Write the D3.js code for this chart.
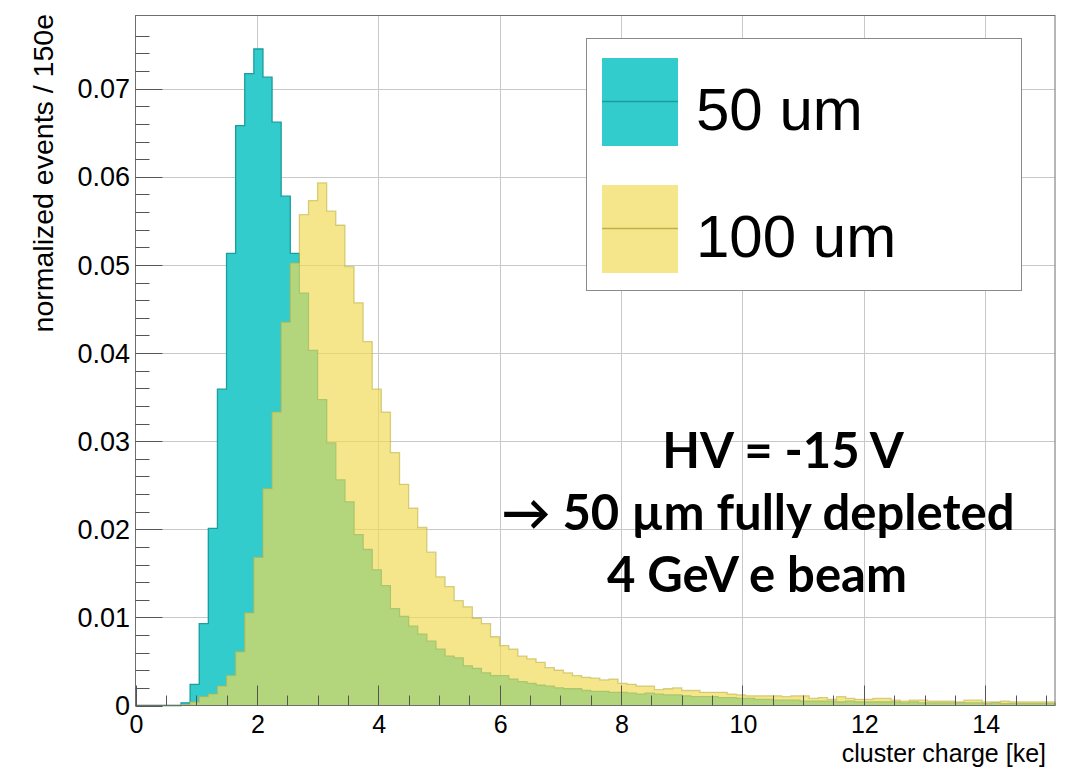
<!DOCTYPE html>
<html lang="en">
<head>
<meta charset="UTF-8">
<title>Cluster charge</title>
<script src="https://d3js.org/d3.v7.min.js"></script>
<style>
  body, html { margin: 0; padding: 0; background: #fff; overflow: hidden; }
  svg { display: block; font-family: "Liberation Sans", Arial, sans-serif; }
</style>
</head>
<body>
<div id="chart"></div>
<script>
// histogram binning: 150 e per bin, in ke
const binWidth = 0.15;

// normalized events per bin, 50 um sensor (cyan)
const thin50 = [
  0, 0, 0, 0, 0, 0.0003, 0.0024, 0.0093, 0.0201, 0.0359,
  0.0513, 0.0658, 0.0717, 0.0745, 0.0713, 0.0662, 0.0578, 0.0513, 0.0468, 0.0403,
  0.0347, 0.0298, 0.0256, 0.0231, 0.0194, 0.0177, 0.0154, 0.0136, 0.0110, 0.0101,
  0.0090, 0.0081, 0.0073, 0.0064, 0.0056, 0.0054, 0.0045, 0.0042, 0.0037, 0.0034,
  0.0034, 0.0030, 0.0027, 0.0025, 0.0023, 0.0022, 0.0020, 0.0019, 0.0019, 0.0017,
  0.0016, 0.0016, 0.0015, 0.0015, 0.0014, 0.0013, 0.0014, 0.0013, 0.0012, 0.0012,
  0.0011, 0.0010, 0.0010, 0.0010, 0.0009, 0.0009, 0.0008, 0.0008, 0.0007, 0.0007,
  0.0006, 0.0006, 0.0006, 0.0005, 0.0005, 0.0005, 0.0005, 0.0004, 0.0005, 0.0004,
  0.0004, 0.0004, 0.0004, 0.0004, 0.0003, 0.0004, 0.0003, 0.0003, 0.0003, 0.0003,
  0.0003, 0.0003, 0.0003, 0.0002, 0.0003, 0.0002, 0.0002, 0.0002, 0.0002, 0.0002,
  0.0002
];

// normalized events per bin, 100 um sensor (yellow)
const thick100 = [
  0, 0, 0, 0, 0, 0.0001, 0.0004, 0.0010, 0.0013, 0.0022,
  0.0034, 0.0061, 0.0105, 0.0168, 0.0246, 0.0333, 0.0435, 0.0502, 0.0557, 0.0573,
  0.0593, 0.0561, 0.0545, 0.0498, 0.0457, 0.0413, 0.0359, 0.0333, 0.0287, 0.0251,
  0.0224, 0.0202, 0.0174, 0.0146, 0.0135, 0.0119, 0.0112, 0.0099, 0.0093, 0.0078,
  0.0068, 0.0064, 0.0056, 0.0053, 0.0049, 0.0043, 0.0040, 0.0037, 0.0034, 0.0032,
  0.0031, 0.0029, 0.0030, 0.0025, 0.0024, 0.0022, 0.0022, 0.0018, 0.0019, 0.0020,
  0.0017, 0.0017, 0.0015, 0.0015, 0.0015, 0.0013, 0.0012, 0.0011, 0.0011, 0.0011,
  0.0011, 0.0010, 0.0011, 0.0011, 0.0008, 0.0009, 0.0007, 0.0010, 0.0008, 0.0007,
  0.0007, 0.0008, 0.0008, 0.0006, 0.0005, 0.0006, 0.0006, 0.0005, 0.0005, 0.0005,
  0.0004, 0.0006, 0.0006, 0.0004, 0.0004, 0.0005, 0.0004, 0.0004, 0.0004, 0.0004,
  0.0004
];

const xTicks = [0, 2, 4, 6, 8, 10, 12, 14];
const yTicks = [0, 0.01, 0.02, 0.03, 0.04, 0.05, 0.06, 0.07];
const yTickLabels = ["0", "0.01", "0.02", "0.03", "0.04", "0.05", "0.06", "0.07"];
const legendLabels = ["50 um", "100 um"];
const noteLines = ["HV = -15 V", "\u2192 50 \u00b5m fully depleted", "4 GeV e beam"];

const width = 1085, height = 768;
const margin = {top: 15.5, right: 30, bottom: 62.5, left: 135.5};

const svg = d3.select("#chart").append("svg")
  .attr("width", width)
  .attr("height", height);

const x = d3.scaleLinear()
  .domain([0, binWidth * thin50.length])
  .range([margin.left, width - margin.right]);
const y = d3.scaleLinear()
  .domain([0, 0.0783])
  .range([height - margin.bottom, margin.top]);

// grid
svg.append("g").selectAll("line")
  .data(xTicks.slice(1)).enter().append("line")
  .attr("x1", d => Math.round(x(d)) + 0.5).attr("x2", d => Math.round(x(d)) + 0.5)
  .attr("y1", y(0)).attr("y2", margin.top)
  .attr("stroke", "#c8c8c8").attr("stroke-width", 1);
svg.append("g").selectAll("line")
  .data(yTicks.slice(1)).enter().append("line")
  .attr("y1", d => Math.round(y(d)) + 0.5).attr("y2", d => Math.round(y(d)) + 0.5)
  .attr("x1", margin.left).attr("x2", width - margin.right)
  .attr("stroke", "#c8c8c8").attr("stroke-width", 1);

// step outline of a histogram
function histPath(vals) {
  const p = d3.path();
  p.moveTo(x(0), y(0));
  vals.forEach((v, i) => {
    p.lineTo(x(i * binWidth), y(v));
    p.lineTo(x((i + 1) * binWidth), y(v));
  });
  p.lineTo(x(vals.length * binWidth), y(0));
  return p.toString();
}

svg.append("path")
  .attr("d", histPath(thin50))
  .attr("fill", "#33cccc")
  .attr("stroke", "#1a9d9d")
  .attr("stroke-width", 1.3);

svg.append("path")
  .attr("d", histPath(thick100))
  .attr("fill", "rgb(240,218,86)")
  .attr("fill-opacity", 0.68)
  .attr("stroke", "rgb(190,178,70)")
  .attr("stroke-opacity", 0.6)
  .attr("stroke-width", 1.3);

// frame
svg.append("rect")
  .attr("x", margin.left).attr("y", margin.top)
  .attr("width", width - margin.right - margin.left)
  .attr("height", y(0) - margin.top)
  .attr("fill", "none").attr("stroke", "#6e6e6e").attr("stroke-width", 1);

// x ticks (inside, pointing up)
const xMinor = d3.range(0, 15.1, 0.5).filter(v => !xTicks.includes(v));
svg.append("g").selectAll("line")
  .data(xTicks.concat(xMinor)).enter().append("line")
  .attr("x1", d => Math.round(x(d)) + 0.5).attr("x2", d => Math.round(x(d)) + 0.5)
  .attr("y1", y(0)).attr("y2", d => y(0) - (xTicks.includes(d) ? 20 : 10))
  .attr("stroke", "#555").attr("stroke-width", 1);

svg.append("g").selectAll("text")
  .data(xTicks).enter().append("text")
  .attr("x", d => x(d) + 1).attr("y", 733)
  .attr("text-anchor", "middle")
  .style("font-size", "25px")
  .text(d => d);

// y ticks (inside, pointing right)
const yMinor = d3.range(0, 0.078, 0.002).filter(v => Math.abs(v * 100 - Math.round(v * 100)) > 1e-6);
svg.append("g").selectAll("line")
  .data(yTicks.map(v => [v, 27]).concat(yMinor.map(v => [v, 14]))).enter().append("line")
  .attr("y1", d => Math.round(y(d[0])) + 0.5).attr("y2", d => Math.round(y(d[0])) + 0.5)
  .attr("x1", margin.left).attr("x2", d => margin.left + d[1])
  .attr("stroke", "#555").attr("stroke-width", 1);

svg.append("g").selectAll("text")
  .data(yTicks).enter().append("text")
  .attr("x", 130).attr("y", d => y(d))
  .attr("dy", "0.36em")
  .attr("text-anchor", "end")
  .style("font-size", "27px")
  .text((d, i) => yTickLabels[i]);

// axis titles
svg.append("text")
  .attr("x", 1046).attr("y", 762)
  .attr("text-anchor", "end")
  .style("font-size", "25px")
  .text("cluster charge [ke]");

svg.append("text")
  .attr("transform", "translate(53,14) rotate(-90)")
  .attr("text-anchor", "end")
  .style("font-size", "28.5px")
  .text("normalized events / 150e");

// legend
const legend = svg.append("g");
legend.append("rect")
  .attr("x", 586.5).attr("y", 38.5).attr("width", 435).attr("height", 252)
  .attr("fill", "#fff").attr("stroke", "#8a8a8a").attr("stroke-width", 1);

const swatches = [
  {fill: "#33cccc", opacity: 1, line: "#1a9d9d"},
  {fill: "rgb(240,218,86)", opacity: 0.68, line: "rgb(190,178,70)"}
];
const item = legend.selectAll(".item")
  .data(legendLabels).enter().append("g")
  .attr("class", "item")
  .attr("transform", (d, i) => `translate(0,${i * 127})`);
item.append("rect")
  .attr("x", 602).attr("y", 58).attr("width", 76).attr("height", 88)
  .attr("fill", (d, i) => swatches[i].fill)
  .attr("fill-opacity", (d, i) => swatches[i].opacity);
item.append("line")
  .attr("x1", 602).attr("x2", 678).attr("y1", 101.5).attr("y2", 101.5)
  .attr("stroke", (d, i) => swatches[i].line).attr("stroke-width", 1.3);
item.append("text")
  .attr("x", 696).attr("y", 130)
  .style("font-size", "60px")
  .text(d => d);

// annotation
const noteX = [783, 758, 757];
const noteY = [468, 530, 592];
svg.append("g").selectAll("text")
  .data(noteLines).enter().append("text")
  .attr("x", (d, i) => noteX[i]).attr("y", (d, i) => noteY[i])
  .attr("text-anchor", "middle")
  .style("font-family", "Lato, 'Open Sans', sans-serif")
  .style("font-weight", "bold")
  .style("font-size", "49px")
  .text(d => d);
</script>
</body>
</html>
